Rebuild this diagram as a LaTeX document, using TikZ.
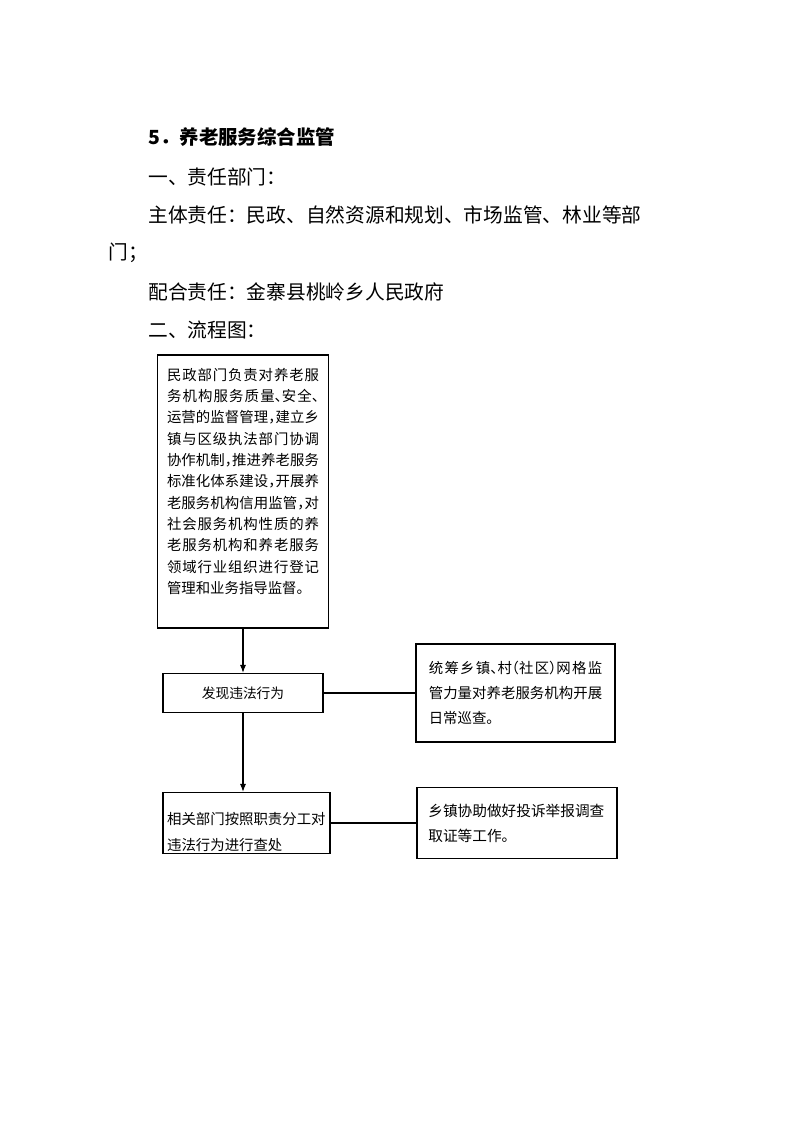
\documentclass[tikz,border=0pt]{standalone}
\usepackage{fontspec}
\setmainfont{Noto Sans CJK SC}
\usepackage{tikz}
\usetikzlibrary{arrows.meta}
\XeTeXlinebreaklocale "zh"
\XeTeXlinebreakskip=0pt plus 2pt
\newcommand{\hp}[1]{\makebox[.5em][l]{#1}}
\newcommand{\hpr}[1]{\makebox[.5em][r]{#1}}

\begin{document}
\begin{tikzpicture}[x=0.75pt,y=-0.75pt,
		line/.style={line width=0.8pt},
		arrow/.style={line width=0.8pt,-{Latex[length=6pt,width=4.5pt]}},
		flowbox/.style={draw,line width=0.8pt,inner sep=0pt,font=\fontsize{10.8pt}{16pt}\selectfont},
		bodytext/.style={anchor=west,inner sep=0pt,font=\fontsize{14.8pt}{18pt}\selectfont}]
			\useasboundingbox (0,0) rectangle (794,1122);

			\node[bodytext,font=\fontsize{14.6pt}{18pt}\selectfont\bfseries] (title) at(148,137){5．养老服务综合监管};
			\node[bodytext] (dept) at(148,177){一、责任部门：};
			\node[bodytext] (mainduty) at(148,215){主体责任：民政、自然资源和规划、市场监管、林业等部};
			\node[bodytext] (maindutyb) at(108,253){门；};
			\node[bodytext] (coduty) at(148,292){配合责任：金寨县桃岭乡人民政府};
			\node[bodytext] (chart) at(148,330){二、流程图：};

			\node[flowbox,minimum width=128.25pt,minimum height=204.75pt] (civil) at(243,491.5){\parbox[c][185.5pt][t]{114pt}{%
				民政部门负责对养老服\linebreak
				务机构服务质量\hp{、}安全\hp{、}\linebreak
				运营的监督管理\hp{，}建立乡\linebreak
				镇与区级执法部门协调\linebreak
				协作机制\hp{，}推进养老服务\linebreak
				标准化体系建设\hp{，}开展养\linebreak
				老服务机构信用监管\hp{，}对\linebreak
				社会服务机构性质的养\linebreak
				老服务机构和养老服务\linebreak
				领域行业组织进行登记\linebreak
				管理和业务指导监督。}};

				\node[flowbox,font=\fontsize{10.3pt}{14pt}\selectfont,minimum width=120pt,minimum height=29.25pt] (discover) at(243,693){发现违法行为};

				\node[flowbox,font=\fontsize{10.8pt}{19pt}\selectfont,minimum width=149.25pt,minimum height=73.5pt] (patrol) at(515.5,693){\parbox{130pt}{%
					统筹乡镇\hp{、}村\hpr{（}社区\hp{）}网格监\linebreak
					管力量对养老服务机构开展\linebreak
					日常巡查。}};

			\node[flowbox,font=\fontsize{10.8pt}{19.5pt}\selectfont,minimum width=125.25pt,minimum height=45.75pt] (handle) at(246.5,823){\parbox[c][41.5pt][b]{119pt}{%
				相关部门按照职责分工对\\违法行为进行查处}};

				\node[flowbox,font=\fontsize{11pt}{18.75pt}\selectfont,minimum width=150pt,minimum height=53.25pt] (support) at(517,823){\parbox{133pt}{%
					乡镇协助做好投诉举报调查\\取证等工作。}};

			\draw[arrow] (civil.south) -- (discover.north);
			\draw[arrow] (discover.south) -- (discover.south |- handle.north);
			\draw[line] (discover.east) -- (patrol.west);
			\draw[line] (handle.east) -- (support.west);

		\end{tikzpicture}
\end{document}
